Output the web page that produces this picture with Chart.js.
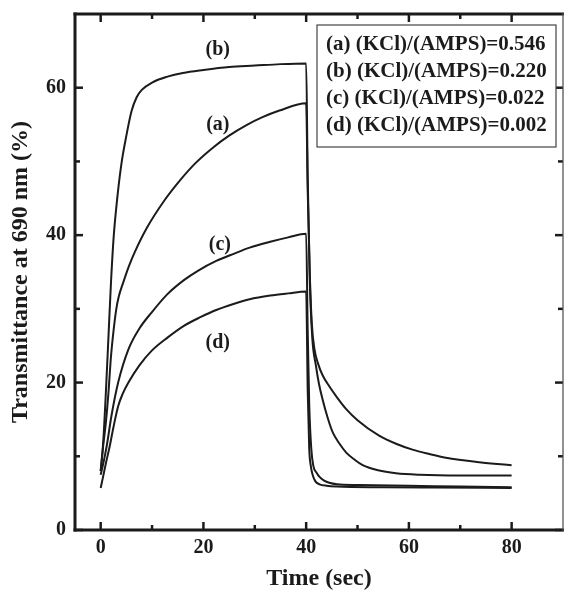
<!DOCTYPE html>
<html>
<head>
<meta charset="utf-8">
<script src="https://cdn.jsdelivr.net/npm/chart.js@4"></script>
<style>
  html, body { margin: 0; padding: 0; background: #fff; }
  #wrap { width: 564px; height: 593px; }
</style>
</head>
<body>
<div id="wrap"><canvas id="myChart"></canvas></div>
<script>
// time (sec) and transmittance (%) for each sample
const timeA = [0, 0.5, 1, 1.5, 2, 2.5, 3, 3.5, 4.4, 5.5, 6.7, 9, 12.5, 15.4, 18.5, 21.9, 25, 28.3, 31.5, 34.8, 40,
  40.3, 40.7, 41.1, 41.6, 42.3, 43.2, 44.5, 46, 47.8, 50, 54.2, 57.5, 60.7, 64, 67.2, 73.7, 80];
const transA = [8, 11.5, 14.5, 18.5, 23.5, 27, 29.8, 31.6, 33.6, 35.8, 37.8, 41.0, 44.8, 47.4, 49.8, 51.9, 53.5, 54.9, 56.0, 56.9, 57.9,
  46, 35, 28, 24.6, 22.6, 21, 19.5, 18, 16.4, 14.9, 12.8, 11.7, 10.9, 10.3, 9.8, 9.2, 8.8];

const timeB = [0, 0.5, 1, 1.5, 2, 2.5, 3, 4, 5, 6, 7, 8, 10, 13, 16, 20, 25, 30, 35, 40,
  40.3, 40.7, 41.2, 41.9, 42.5, 43.2, 44.2, 45.2, 46.5, 47.8, 49.5, 51, 54, 57.5, 62, 70, 80];
const transB = [8, 12, 18.5, 26, 33.5, 39.5, 43.5, 49.5, 53.5, 56.8, 58.7, 59.7, 60.7, 61.5, 62, 62.4, 62.8, 63, 63.2, 63.3,
  48, 34, 26, 22.3, 19.8, 17.7, 15.2, 13.2, 11.7, 10.5, 9.5, 8.8, 8.1, 7.7, 7.5, 7.4, 7.4];

const timeC = [0, 0.5, 1.2, 2.1, 3.4, 5.4, 7.5, 9.9, 13, 16.2, 19, 22.5, 26, 29, 33, 36.5, 40,
  40.3, 40.6, 41, 41.4, 42, 42.6, 43.5, 44.5, 46, 50, 60, 70, 80];
const transC = [7.5, 9, 11.5, 15.5, 20, 24.5, 27.3, 29.5, 32, 33.9, 35.2, 36.5, 37.5, 38.3, 39.1, 39.7, 40.2,
  27, 17, 11, 8.7, 7.8, 7.2, 6.7, 6.4, 6.2, 6.1, 6.0, 5.9, 5.8];

const timeD = [0, 0.4, 1, 1.8, 2.5, 3.4, 4.3, 5.4, 7.5, 9.9, 13, 16.2, 19.5, 22.5, 26, 29, 33, 36.5, 40,
  40.3, 40.6, 40.9, 41.3, 41.8, 42.6, 44, 46, 55, 65, 80];
const transD = [5.7, 7, 9, 11.5, 14, 16.8, 18.5, 20, 22.3, 24.3, 26.1, 27.7, 28.9, 29.85, 30.7, 31.3, 31.8, 32.1, 32.35,
  19, 11, 8.7, 7.4, 6.6, 6.2, 6.0, 5.9, 5.8, 5.75, 5.7];

const curveTags = ['(a)', '(b)', '(c)', '(d)'];
const tagX = [22.8, 22.8, 23.2, 22.8];
const tagY = [55.0, 65.2, 38.7, 25.4];

const legendLines = [
  '(a) (KCl)/(AMPS)=0.546',
  '(b) (KCl)/(AMPS)=0.220',
  '(c) (KCl)/(AMPS)=0.022',
  '(d) (KCl)/(AMPS)=0.002'
];

const xTicks = [0, 20, 40, 60, 80];
const xMinor = [10, 30, 50, 70];
const yTicks = [0, 20, 40, 60];
const yMinor = [10, 30, 50];

const INK = '#1b1b1b';
const SERIF = '"Liberation Serif", "Times New Roman", serif';

function toPoints(xs, ys) {
  return xs.map((x, i) => ({x: x, y: ys[i]}));
}

function series(xs, ys) {
  return {
    data: toPoints(xs, ys),
    borderColor: INK,
    borderWidth: 2,
    pointRadius: 0,
    fill: false,
    cubicInterpolationMode: 'monotone',
  };
}

// frame with inward ticks on all four sides, curve tags and the legend box
const decorations = {
  id: 'decorations',
  afterDatasetsDraw(chart) {
    const {ctx, chartArea: a, scales} = chart;
    const sx = scales.x, sy = scales.y;
    ctx.save();
    ctx.strokeStyle = INK;
    ctx.lineWidth = 2.5;
    ctx.lineCap = 'butt';

    const line = (x1, y1, x2, y2) => {
      ctx.beginPath();
      ctx.moveTo(x1, y1);
      ctx.lineTo(x2, y2);
      ctx.stroke();
    };
    xTicks.concat(xMinor).forEach(v => {
      const len = xTicks.includes(v) ? 8 : 5;
      const px = sx.getPixelForValue(v);
      line(px, a.bottom, px, a.bottom - len);
      line(px, a.top, px, a.top + len);
    });
    yTicks.concat(yMinor).forEach(v => {
      const len = yTicks.includes(v) ? 8 : 5;
      const py = sy.getPixelForValue(v);
      line(a.left, py, a.left + len, py);
      line(a.right, py, a.right - len, py);
    });

    ctx.lineWidth = 3;
    ctx.lineCap = 'square';
    line(a.left, a.top, a.right, a.top);
    line(a.left, a.top, a.left, a.bottom);
    line(a.left, a.bottom, a.right, a.bottom);
    ctx.lineWidth = 1.3;
    ctx.strokeStyle = '#555';
    line(a.right, a.top, a.right, a.bottom);

    ctx.fillStyle = INK;
    ctx.font = 'bold 20px ' + SERIF;
    ctx.textAlign = 'center';
    ctx.textBaseline = 'middle';
    curveTags.forEach((t, i) => {
      ctx.fillText(t, sx.getPixelForValue(tagX[i]), sy.getPixelForValue(tagY[i]));
    });

    const bx = a.left + 242, by = a.top + 11, bw = 239, bh = 122;
    ctx.fillStyle = '#fff';
    ctx.fillRect(bx, by, bw, bh);
    ctx.lineWidth = 1.2;
    ctx.strokeStyle = '#444';
    ctx.strokeRect(bx, by, bw, bh);
    ctx.fillStyle = INK;
    ctx.font = 'bold 21px ' + SERIF;
    ctx.textAlign = 'left';
    legendLines.forEach((t, i) => {
      ctx.fillText(t, bx + 9, by + 20 + i * 27);
    });
    ctx.restore();
  }
};

const config = {
  type: 'line',
  data: {
    datasets: [
      series(timeA, transA),
      series(timeB, transB),
      series(timeC, transC),
      series(timeD, transD),
    ]
  },
  options: {
    responsive: true,
    maintainAspectRatio: false,
    animation: false,
    layout: {padding: {top: 14, right: 1, left: 0, bottom: 0}},
    plugins: {
      legend: {display: false},
      tooltip: {enabled: false},
    },
    scales: {
      x: {
        type: 'linear',
        min: -5,
        max: 90,
        grid: {display: false, drawTicks: false},
        border: {display: false},
        afterBuildTicks(scale) {
          scale.ticks = xTicks.map(v => ({value: v}));
        },
        afterFit(scale) {
          scale.height = 63;
          scale.paddingLeft = 0;
          scale.paddingRight = 0;
        },
        ticks: {
          color: INK,
          padding: 6,
          maxRotation: 0,
          font: {family: SERIF, size: 20, weight: 'bold'},
        },
        title: {
          display: true,
          text: 'Time (sec)',
          color: INK,
          padding: {top: 0, bottom: 0},
          font: {family: SERIF, size: 24, weight: 'bold'},
        },
      },
      y: {
        type: 'linear',
        min: 0,
        max: 70,
        grid: {display: false, drawTicks: false},
        border: {display: false},
        afterBuildTicks(scale) {
          scale.ticks = yTicks.map(v => ({value: v}));
        },
        afterFit(scale) {
          scale.width = 75;
          scale.paddingTop = 0;
          scale.paddingBottom = 0;
        },
        ticks: {
          color: INK,
          padding: 9,
          font: {family: SERIF, size: 20, weight: 'bold'},
        },
        title: {
          display: true,
          text: 'Transmittance at 690 nm (%)',
          color: INK,
          padding: {top: 6, bottom: 0},
          font: {family: SERIF, size: 24, weight: 'bold'},
        },
      },
    },
  },
  plugins: [decorations],
};

const ctx = document.getElementById('myChart').getContext('2d');
const myChart = new Chart(ctx, config);
</script>
</body>
</html>
